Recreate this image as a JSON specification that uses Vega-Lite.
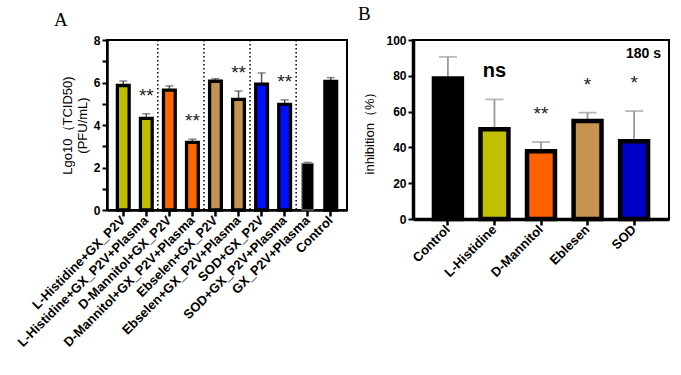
{
  "$schema": "https://vega.github.io/schema/vega-lite/v6.json",
  "padding": {"left": 14, "top": 3, "right": 5, "bottom": 5},
  "background": "white",
  "config": {
    "font": "Liberation Sans",
    "view": {"stroke": "black", "strokeWidth": 2},
    "axis": {
      "grid": false, "domainColor": "black", "tickColor": "black", "labelColor": "black", "titleColor": "black",
      "labelFont": "Liberation Sans", "labelFontWeight": "bold", "labelFontSize": 12,
      "titleFont": "Liberation Sans", "titleFontWeight": "normal", "titleFontSize": 13,
      "domainWidth": 2.5, "tickWidth": 2, "tickSize": 5, "labelPadding": 2
    },
    "axisY": {"labelOverlap": false},
    "title": {"font": "Liberation Serif", "fontSize": 19, "fontWeight": "normal", "anchor": "start", "frame": "group", "color": "black"},
    "concat": {"spacing": 9}
  },
  "resolve": {"scale": {"fill": "independent", "stroke": "independent", "y": "independent", "x": "independent"}},
  "hconcat": [
    {
      "width": 240,
      "height": 170,
      "title": {"text": "A", "dx": -53, "offset": 4},
      "data": {"values": [
        {"name": "L-Histidine+GX_P2V", "value": 5.86, "upper": 6.07, "sig": ""},
        {"name": "L-Histidine+GX_P2V+Plasma", "value": 4.31, "upper": 4.53, "sig": "**"},
        {"name": "D-Mannitol+GX_P2V", "value": 5.64, "upper": 5.84, "sig": ""},
        {"name": "D-Mannitol+GX_P2V+Plasma", "value": 3.18, "upper": 3.33, "sig": "**"},
        {"name": "Ebselen+GX_P2V", "value": 6.06, "upper": 6.18, "sig": ""},
        {"name": "Ebselen+GX_P2V+Plasma", "value": 5.21, "upper": 5.6, "sig": "**"},
        {"name": "SOD+GX_P2V", "value": 5.92, "upper": 6.45, "sig": ""},
        {"name": "SOD+GX_P2V+Plasma", "value": 4.97, "upper": 5.18, "sig": "**"},
        {"name": "GX_P2V+Plasma", "value": 2.2, "upper": 2.24, "sig": ""},
        {"name": "Control", "value": 6.05, "upper": 6.23, "sig": ""}
      ]},
      "layer": [
        {
          "data": {"values": [
            {"name": "L-Histidine+GX_P2V+Plasma"},
            {"name": "D-Mannitol+GX_P2V+Plasma"},
            {"name": "Ebselen+GX_P2V+Plasma"},
            {"name": "SOD+GX_P2V+Plasma"}
          ]},
          "mark": {"type": "rule", "strokeDash": [1.5, 2.5], "strokeWidth": 1.5, "color": "black"},
          "encoding": {
            "x": {"field": "name", "type": "nominal", "sort": null, "bandPosition": 1.48}
          }
        },
        {
          "mark": {"type": "rule", "color": "#555555", "strokeWidth": 1.5},
          "encoding": {
            "x": {"field": "name", "type": "nominal", "sort": null},
            "y": {"field": "value", "type": "quantitative"},
            "y2": {"field": "upper"}
          }
        },
        {
          "mark": {"type": "tick", "color": "#555555", "size": 8, "thickness": 1.5},
          "encoding": {
            "x": {"field": "name", "type": "nominal", "sort": null},
            "y": {"field": "upper", "type": "quantitative"}
          }
        },
        {
          "mark": {"type": "bar", "strokeJoin": "miter"},
          "encoding": {
            "x": {
              "field": "name", "type": "nominal", "sort": null,
              "scale": {
                "domain": ["L-Histidine+GX_P2V", "L-Histidine+GX_P2V+Plasma", "D-Mannitol+GX_P2V", "D-Mannitol+GX_P2V+Plasma", "Ebselen+GX_P2V", "Ebselen+GX_P2V+Plasma", "SOD+GX_P2V", "SOD+GX_P2V+Plasma", "GX_P2V+Plasma", "Control"],
                "paddingInner": 0.49, "paddingOuter": 0.45
              },
              "axis": {"title": null, "labelAngle": -45, "labelFontSize": 13, "tickSize": 6, "tickWidth": 2.5}
            },
            "y": {
              "field": "value", "type": "quantitative",
              "scale": {"domain": [0, 8], "nice": false},
              "axis": {
                "values": [0, 1, 2, 3, 4, 5, 6, 7, 8],
                "tickCount": 20,
                "format": "d",
                "labelExpr": "datum.value % 2 === 0 ? datum.label : ''",
                "labelOverlap": false,
                "title": ["Lgo10（TCID50)", "(PFU/mL)"],
                "titlePadding": 4
              }
            },
            "fill": {
              "field": "name", "type": "nominal", "legend": null,
              "scale": {
                "domain": ["L-Histidine+GX_P2V", "L-Histidine+GX_P2V+Plasma", "D-Mannitol+GX_P2V", "D-Mannitol+GX_P2V+Plasma", "Ebselen+GX_P2V", "Ebselen+GX_P2V+Plasma", "SOD+GX_P2V", "SOD+GX_P2V+Plasma", "GX_P2V+Plasma", "Control"],
                "range": ["#BFBF00", "#BFBF00", "#FF6600", "#FF6600", "#C49352", "#C49352", "#0010FF", "#0010FF", "#000000", "#000000"]
              }
            },
            "stroke": {
              "field": "name", "type": "nominal", "legend": null,
              "scale": {
                "domain": ["L-Histidine+GX_P2V", "L-Histidine+GX_P2V+Plasma", "D-Mannitol+GX_P2V", "D-Mannitol+GX_P2V+Plasma", "Ebselen+GX_P2V", "Ebselen+GX_P2V+Plasma", "SOD+GX_P2V", "SOD+GX_P2V+Plasma", "GX_P2V+Plasma", "Control"],
                "range": ["#000000", "#000000", "#000000", "#000000", "#000000", "#000000", "#000000", "#000000", "#888888", "#000000"]
              }
            },
            "strokeWidth": {"condition": {"test": "datum.name === 'GX_P2V+Plasma'", "value": 1}, "value": 3.3}
          }
        },
        {
          "mark": {"type": "text", "fontSize": 19, "dy": -18, "baseline": "middle", "color": "#222222"},
          "encoding": {
            "x": {"field": "name", "type": "nominal", "sort": null},
            "y": {"field": "upper", "type": "quantitative"},
            "text": {"field": "sig"}
          }
        }
      ]
    },
    {
      "width": 256,
      "height": 179,
      "title": {"text": "B", "dx": -55, "offset": -4},
      "data": {"values": [
        {"name": "Control", "value": 78.5, "upper": 90.6, "sig": ""},
        {"name": "L-Histidine", "value": 50.2, "upper": 66.8, "sig": "ns"},
        {"name": "D-Mannitol", "value": 37.9, "upper": 43, "sig": "**"},
        {"name": "Eblesen", "value": 54.7, "upper": 59.4, "sig": "*"},
        {"name": "SOD", "value": 43.5, "upper": 60.3, "sig": "*"}
      ]},
      "layer": [
        {
          "mark": {"type": "rule", "color": "#9a9a9a", "strokeWidth": 1.8},
          "encoding": {
            "x": {"field": "name", "type": "nominal", "sort": null},
            "y": {"field": "value", "type": "quantitative"},
            "y2": {"field": "upper"}
          }
        },
        {
          "mark": {"type": "tick", "color": "#9a9a9a", "size": 18, "thickness": 1.8},
          "encoding": {
            "x": {"field": "name", "type": "nominal", "sort": null},
            "y": {"field": "upper", "type": "quantitative"}
          }
        },
        {
          "mark": {"type": "bar", "strokeJoin": "miter", "stroke": "black", "strokeWidth": 4.5},
          "encoding": {
            "x": {
              "field": "name", "type": "nominal", "sort": null,
              "scale": {"domain": ["Control", "L-Histidine", "D-Mannitol", "Eblesen", "SOD"], "paddingInner": 0.4, "paddingOuter": 0.45},
              "axis": {"title": null, "labelAngle": -45, "labelFontSize": 13, "tickSize": 6, "tickWidth": 2.5, "domainWidth": 3.5}
            },
            "y": {
              "field": "value", "type": "quantitative",
              "scale": {"domain": [0, 100], "nice": false},
              "axis": {"values": [0, 20, 40, 60, 80, 100], "tickCount": 20, "format": "d", "labelOverlap": false, "title": "inhibition（%）", "titlePadding": 9, "domainWidth": 3.5}
            },
            "fill": {
              "field": "name", "type": "nominal", "legend": null,
              "scale": {"domain": ["Control", "L-Histidine", "D-Mannitol", "Eblesen", "SOD"], "range": ["#000000", "#C0C000", "#FF6000", "#C69350", "#0000C8"]}
            }
          }
        },
        {
          "transform": [{"filter": "datum.sig !== 'ns'"}],
          "mark": {"type": "text", "fontSize": 19, "dy": -28, "baseline": "middle", "color": "#222222"},
          "encoding": {
            "x": {"field": "name", "type": "nominal", "sort": null},
            "y": {"field": "upper", "type": "quantitative"},
            "text": {"field": "sig"}
          }
        },
        {
          "transform": [{"filter": "datum.sig === 'ns'"}],
          "mark": {"type": "text", "fontSize": 20, "fontWeight": "bold", "dy": -28, "baseline": "middle", "color": "black"},
          "encoding": {
            "x": {"field": "name", "type": "nominal", "sort": null},
            "y": {"field": "upper", "type": "quantitative"},
            "text": {"field": "sig"}
          }
        },
        {
          "data": {"values": [{"label": "180 s", "name": "SOD", "at": 92}]},
          "mark": {"type": "text", "fontSize": 14, "fontWeight": "bold", "align": "right", "baseline": "middle", "dx": 27, "color": "black"},
          "encoding": {
            "x": {"field": "name", "type": "nominal", "sort": null},
            "y": {"field": "at", "type": "quantitative"},
            "text": {"field": "label"}
          }
        }
      ]
    }
  ]
}
